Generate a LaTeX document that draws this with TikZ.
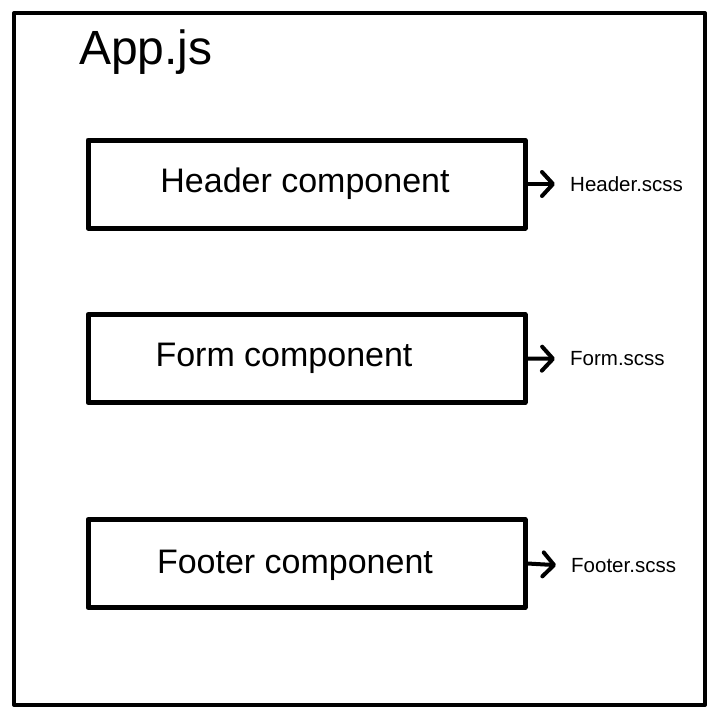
\documentclass[tikz,border=0pt]{standalone}
\usepackage{fontspec}
\setmainfont{Liberation Sans}
\usetikzlibrary{arrows.meta, positioning}

\begin{document}
\begin{tikzpicture}[
  x=1pt, y=-1pt,
  frame/.style={draw=black, line width=4pt, line join=round, line cap=round},
  comp/.style={rectangle, draw=black, line width=5pt, line join=round,
    minimum width=437pt, minimum height=88pt, inner sep=0pt},
  compname/.style={font=\fontsize{34}{38}\selectfont},
  scss/.style={anchor=west, inner sep=0pt, font=\fontsize{20.5}{24}\selectfont},
  flow/.style={line width=4pt, line cap=round, shorten >=15pt,
    -{Straight Barb[length=11pt, width=24pt, line cap=round, line join=round]}},
]
\useasboundingbox (0,0) rectangle (718,726);
\draw[frame] (14,13) rectangle (705,705);
\node[anchor=west, inner sep=0pt, font=\fontsize{48}{52}\selectfont] (app) at (79,52) {App.js};

\node[comp] (hdr)  at (306.5,184) {};
\node[comp] (form) at (306.5,358.5) {};
\node[comp] (ftr)  at (306.5,563.5) {};

\node[compname] (hdrtxt)  at (305,184) {Header component};
\node[compname] (formtxt) at (284,358) {Form component};
\node[compname] (ftrtxt)  at (295,565) {Footer component};

\node[scss] (hdrcss)  at (570,184) {Header.scss};
\node[scss] (formcss) at (570,359) {Form.scss};
\node[scss] (ftrcss)  at (571,566) {Footer.scss};

\draw[flow] (hdr.east)  -- (hdrcss.west);
\draw[flow] (form.east) -- (formcss.west);
\draw[flow] (ftr.east)  -- (ftrcss.west);
\end{tikzpicture}
\end{document}
